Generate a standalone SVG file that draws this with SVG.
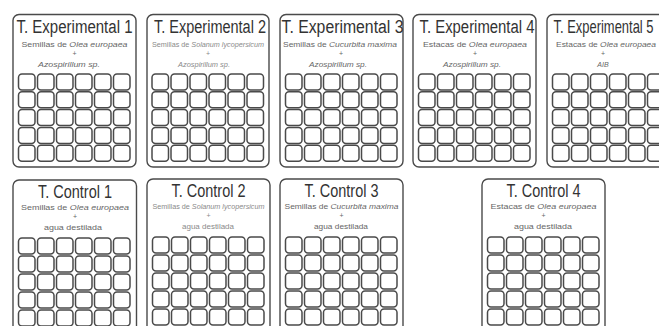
<svg xmlns="http://www.w3.org/2000/svg" xmlns:xlink="http://www.w3.org/1999/xlink" width="659" height="326" viewBox="0 0 659 326">
<style>
.panel{fill:#fff;stroke:#4a4a4a;stroke-width:1.4}
.cell{fill:#fff;stroke:#4a4a4a;stroke-width:1.5}
.title{font-family:"Liberation Sans",Arial,sans-serif;font-size:18px;fill:#333;text-anchor:middle}
.sub{font-family:"Liberation Sans",Arial,sans-serif;font-size:7px;fill:#666;text-anchor:middle}
.lt{fill:#8a8a8a}
.it{font-style:italic}
</style>
<defs>
<g id="rowT">
<rect class="cell" x="0" y="0" width="16.5" height="16" rx="3.5"/>
<rect class="cell" x="19" y="0" width="16.5" height="16" rx="3.5"/>
<rect class="cell" x="38" y="0" width="16.5" height="16" rx="3.5"/>
<rect class="cell" x="57" y="0" width="16.5" height="16" rx="3.5"/>
<rect class="cell" x="76" y="0" width="16.5" height="16" rx="3.5"/>
<rect class="cell" x="95" y="0" width="16.5" height="16" rx="3.5"/>
</g>
<g id="gridTop">
<use xlink:href="#rowT" href="#rowT" y="0"/>
<use xlink:href="#rowT" href="#rowT" y="17.8"/>
<use xlink:href="#rowT" href="#rowT" y="35.6"/>
<use xlink:href="#rowT" href="#rowT" y="53.4"/>
<use xlink:href="#rowT" href="#rowT" y="71.2"/>
</g>
<g id="gridBot">
<use xlink:href="#rowT" href="#rowT" y="0"/>
<use xlink:href="#rowT" href="#rowT" y="18"/>
<use xlink:href="#rowT" href="#rowT" y="36"/>
<use xlink:href="#rowT" href="#rowT" y="54"/>
<use xlink:href="#rowT" href="#rowT" y="72"/>
</g>
</defs>
<rect width="659" height="326" fill="#fff"/>
<g id="connectors"/>

<g id="exp1">
<rect class="panel" x="13" y="14.5" width="123" height="152.5" rx="6"/>
<text class="title" x="74.5" y="33" textLength="116" lengthAdjust="spacingAndGlyphs">T. Experimental 1</text>
<text class="sub" x="74.5" y="46.5" textLength="106" lengthAdjust="spacingAndGlyphs">Semillas de <tspan class="it">Olea europaea</tspan></text>
<text class="sub" x="74.5" y="56">+</text>
<text class="sub it" x="69" y="66.5" textLength="62" lengthAdjust="spacingAndGlyphs">Azospirillum sp.</text>
<use xlink:href="#gridTop" href="#gridTop" x="18.5" y="74"/>
</g>

<g id="exp2">
<rect class="panel" x="147" y="14.5" width="122" height="152.5" rx="6"/>
<text class="title" x="210" y="33" textLength="112" lengthAdjust="spacingAndGlyphs">T. Experimental 2</text>
<text class="sub lt" x="208" y="46.5" textLength="112" lengthAdjust="spacingAndGlyphs">Semillas de <tspan class="it">Solanum lycopersicum</tspan></text>
<text class="sub lt" x="208" y="56">+</text>
<text class="sub lt it" x="204" y="66.5" textLength="52" lengthAdjust="spacingAndGlyphs">Azospirillum sp.</text>
<use xlink:href="#gridTop" href="#gridTop" x="152" y="74"/>
</g>

<g id="exp3">
<rect class="panel" x="280" y="14.5" width="123" height="152.5" rx="6"/>
<text class="title" x="342.5" y="33" textLength="122" lengthAdjust="spacingAndGlyphs">T. Experimental 3</text>
<text class="sub" x="340" y="46.5" textLength="114" lengthAdjust="spacingAndGlyphs">Semillas de <tspan class="it">Cucurbita maxima</tspan></text>
<text class="sub" x="341" y="56">+</text>
<text class="sub it" x="338" y="66.5" textLength="58" lengthAdjust="spacingAndGlyphs">Azospirillum sp.</text>
<use xlink:href="#gridTop" href="#gridTop" x="285.5" y="74"/>
</g>

<g id="exp4">
<rect class="panel" x="413" y="14.5" width="123" height="152.5" rx="6"/>
<text class="title" x="477" y="33" textLength="115" lengthAdjust="spacingAndGlyphs">T. Experimental 4</text>
<text class="sub" x="475" y="46.5" textLength="104" lengthAdjust="spacingAndGlyphs">Estacas de <tspan class="it">Olea europaea</tspan></text>
<text class="sub" x="475" y="56">+</text>
<text class="sub it" x="472" y="66.5" textLength="58" lengthAdjust="spacingAndGlyphs">Azospirillum sp.</text>
<use xlink:href="#gridTop" href="#gridTop" x="418.5" y="74"/>
</g>

<g id="exp5">
<rect class="panel" x="547" y="14.5" width="123" height="152.5" rx="6"/>
<text class="title" transform="translate(603.5,33) scale(0.72,1)" x="0" y="0">T. Experimental 5</text>
<text class="sub" x="606" y="46.5" textLength="100" lengthAdjust="spacingAndGlyphs">Estacas de <tspan class="it">Olea europaea</tspan></text>
<text class="sub" x="603" y="56">+</text>
<text class="sub it" x="603" y="66.5">AIB</text>
<use xlink:href="#gridTop" href="#gridTop" x="552.5" y="74"/>
</g>

<g id="ctrl1">
<rect class="panel" x="13" y="180" width="123.5" height="160" rx="6"/>
<text class="title" x="75" y="198" textLength="74" lengthAdjust="spacingAndGlyphs">T. Control 1</text>
<text class="sub" x="75" y="210" textLength="108" lengthAdjust="spacingAndGlyphs">Semillas de <tspan class="it">Olea europaea</tspan></text>
<text class="sub" x="75" y="219">+</text>
<text class="sub" x="73" y="230" textLength="58" lengthAdjust="spacingAndGlyphs">agua destilada</text>
<use xlink:href="#gridBot" href="#gridBot" x="18.5" y="238"/>
</g>

<g id="ctrl2">
<rect class="panel" x="147" y="179" width="123" height="160" rx="6"/>
<text class="title" x="208.5" y="197" textLength="74" lengthAdjust="spacingAndGlyphs">T. Control 2</text>
<text class="sub lt" x="208.5" y="209" textLength="112" lengthAdjust="spacingAndGlyphs">Semillas de <tspan class="it">Solanum lycopersicum</tspan></text>
<text class="sub lt" x="208.5" y="218">+</text>
<text class="sub lt" x="208" y="229" textLength="52" lengthAdjust="spacingAndGlyphs">agua destilada</text>
<use xlink:href="#gridBot" href="#gridBot" x="152.5" y="237"/>
</g>

<g id="ctrl3">
<rect class="panel" x="280" y="179" width="123" height="160" rx="6"/>
<text class="title" x="341.5" y="197" textLength="74" lengthAdjust="spacingAndGlyphs">T. Control 3</text>
<text class="sub" x="341.5" y="209" textLength="114" lengthAdjust="spacingAndGlyphs">Semillas de <tspan class="it">Cucurbita maxima</tspan></text>
<text class="sub" x="341.5" y="218">+</text>
<text class="sub" x="341" y="229" textLength="54" lengthAdjust="spacingAndGlyphs">agua destilada</text>
<use xlink:href="#gridBot" href="#gridBot" x="285.5" y="237"/>
</g>

<g id="ctrl4">
<rect class="panel" x="482" y="179" width="123" height="160" rx="6"/>
<text class="title" x="543.5" y="197" textLength="74" lengthAdjust="spacingAndGlyphs">T. Control 4</text>
<text class="sub" x="543.5" y="209" textLength="106" lengthAdjust="spacingAndGlyphs">Estacas de <tspan class="it">Olea europaea</tspan></text>
<text class="sub" x="543.5" y="218">+</text>
<text class="sub" x="543" y="229" textLength="58" lengthAdjust="spacingAndGlyphs">agua destilada</text>
<use xlink:href="#gridBot" href="#gridBot" x="487.5" y="237"/>
</g>
</svg>
